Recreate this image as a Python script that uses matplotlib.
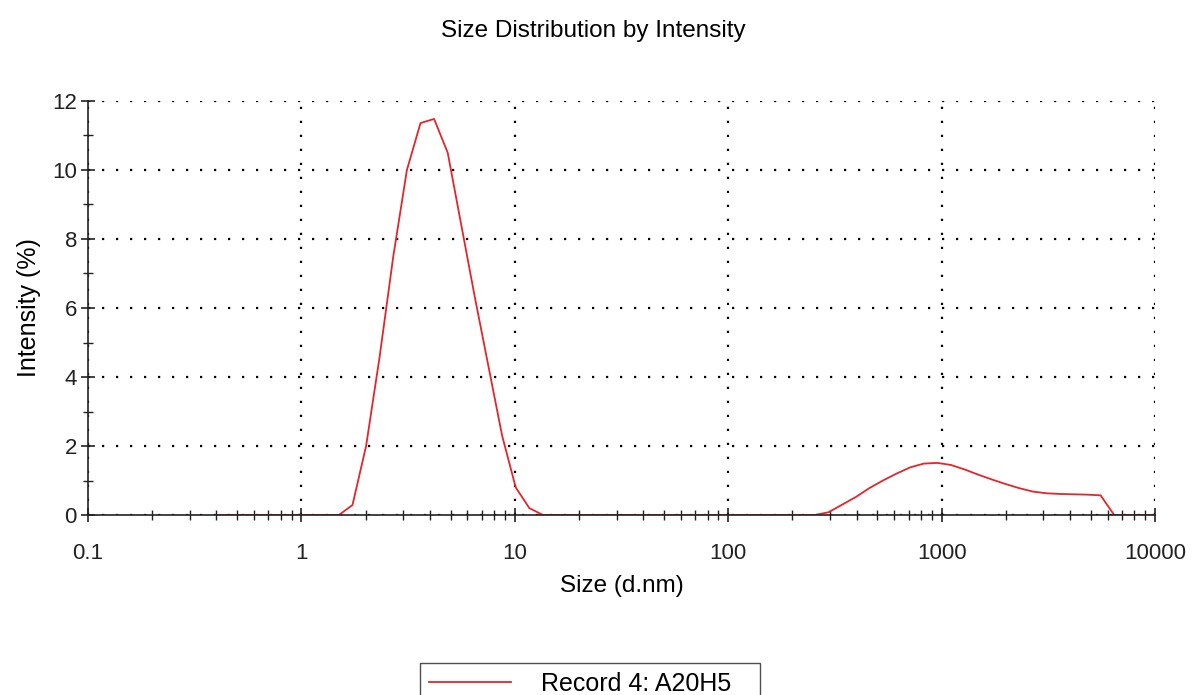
import matplotlib.pyplot as plt
import numpy as np

plt.rcParams['font.family'] = ['Liberation Sans', 'DejaVu Sans']

# size bins (d.nm), 70 log-spaced classes from 0.4 to 10000
size_nm = np.logspace(np.log10(0.4), np.log10(10000), 70)

# intensity (%), one value per bin
intensity = [
    0, 0, 0, 0, 0, 0, 0, 0, 0, 0,           # 0.4 .. 1.5
    0.29, 2.0, 4.6, 7.5, 10.0, 11.36, 11.48, 10.5, 8.4, 6.3,
    4.3, 2.3, 0.8, 0.2, 0, 0, 0, 0, 0, 0,
    0, 0, 0, 0, 0, 0, 0, 0, 0, 0,
    0, 0, 0, 0, 0, 0.08, 0.3, 0.52, 0.78, 1.0,
    1.2, 1.38, 1.49, 1.51, 1.45, 1.32, 1.17, 1.03, 0.9, 0.78,
    0.68, 0.63, 0.61, 0.6, 0.59, 0.57, 0, 0, 0, 0,
]

x_ticks = [0.1, 1, 10, 100, 1000, 10000]
x_labels = ['0.1', '1', '10', '100', '1000', '10000']
y_ticks = [0, 2, 4, 6, 8, 10, 12]
record_label = 'Record 4: A20H5'

fig = plt.figure(figsize=(11.94, 6.95), dpi=100)
ax = fig.add_axes([88 / 1194, 1 - 515 / 695, (1155 - 88) / 1194, (515 - 101) / 695])

ax.plot(size_nm, intensity, color='#e2262b', lw=1.3, label=record_label)

ax.set_xscale('log')
ax.set_xlim(0.1, 10000)
ax.set_ylim(0, 12)
ax.set_xticks(x_ticks)
ax.set_xticklabels(x_labels)
ax.set_yticks(y_ticks)
ax.set_yticks(range(1, 12, 2), minor=True)

ax.grid(True, which='major', color='black', linestyle=(0, (1, 5.3)), linewidth=1.6)
for s in ['top', 'right']:
    ax.spines[s].set_visible(False)
for s in ['left', 'bottom']:
    ax.spines[s].set_color('#222222')
    ax.spines[s].set_linewidth(1.2)

ax.tick_params(which='major', direction='inout', length=10, width=1.2,
               labelsize=16, colors='#222222')
ax.tick_params(which='minor', direction='inout', length=7, width=1.0, colors='#222222')
ax.tick_params(axis='x', which='major', pad=15)
ax.tick_params(axis='y', which='major', pad=3)

ax.set_xlabel('Size (d.nm)', fontsize=17.5, labelpad=8)
ax.set_ylabel('Intensity (%)', fontsize=18, labelpad=8)
fig.text(0.497, 1 - 31 / 695, 'Size Distribution by Intensity', ha='center', va='center', fontsize=17.5)

leg = fig.legend(loc='upper left', mode='expand',
                 bbox_to_anchor=(420 / 1194, 0, 340 / 1194, 1 - 663 / 695),
                 frameon=True, fancybox=False, edgecolor='#222222', fontsize=18,
                 handlelength=3.3, handletextpad=1.2, borderpad=0.35, borderaxespad=0)
leg.get_frame().set_linewidth(1.0)

fig.savefig('out.png', dpi=100)
